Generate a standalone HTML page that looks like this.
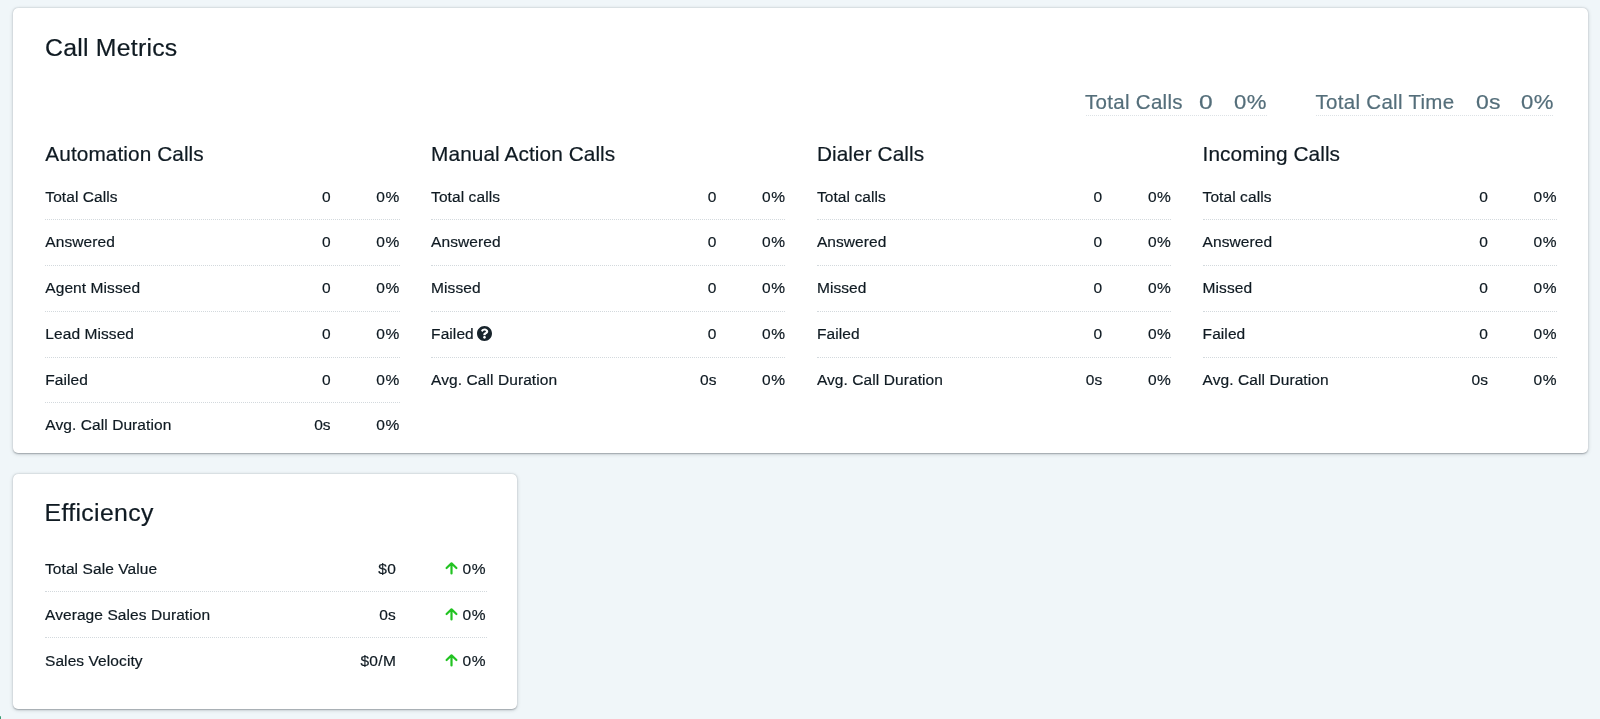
<!DOCTYPE html>
<html><head><meta charset="utf-8"><style>
html,body{margin:0;padding:0}
.layer{position:absolute;left:0;top:0;width:1600px;height:719px;will-change:transform;-webkit-text-stroke:.2px currentColor}
body{width:1600px;height:719px;background:#f0f6f9;position:relative;overflow:hidden;font-family:"Liberation Sans",sans-serif;color:#0f1a22}
.card{position:absolute;background:#fff;border-radius:5px;box-shadow:0 .5px 1.5px rgba(20,30,40,.3),0 1px 4px rgba(20,30,40,.16)}
.t{position:absolute;font-size:24.8px;line-height:24.8px;letter-spacing:.25px;color:#0f1a22;white-space:nowrap}
.st{position:absolute;font-size:20.8px;line-height:21px;letter-spacing:.08px;color:#0f1a22;white-space:nowrap}
.row{position:absolute;height:45.75px;font-size:15.5px;letter-spacing:.08px;line-height:45px;white-space:nowrap}
.row::after{content:"";position:absolute;left:0;right:0;bottom:-1px;border-top:1px dotted #d3d9dd}
.erow{height:46px}
.erow::after{bottom:0}
.erow .v1{letter-spacing:.3px}
.row.last::after{display:none}
.lab{position:absolute;left:0;top:0}
.v1{position:absolute;right:69px;top:0}
.erow .v1{right:90.4px}
.v2{position:absolute;right:0;top:0;letter-spacing:.5px}
.erow .v2{right:0.3px;letter-spacing:.7px}
.q{position:absolute;left:46px;top:15.5px}
.ar{position:absolute;left:399px;top:15.5px}
.sum{position:absolute;top:88.5px;font-size:20.5px;line-height:25px;color:#546e7a;white-space:nowrap;letter-spacing:.3px}
.ul{position:absolute;top:114.5px;height:1px;border-top:1px dotted #dde2e6}
.dg{transform:scaleX(1.12);transform-origin:0 0}
.green{position:absolute;left:0;top:716px;width:1.2px;height:3px;background:#3a9a72;border-top-right-radius:1px}
</style></head><body>
<div class="card" style="left:13px;top:8px;width:1575px;height:445px"></div>
<div class="card" style="left:13px;top:474px;width:504px;height:235px"></div>
<div class="layer">
<div class="t" style="left:45px;top:35.5px">Call Metrics</div>
<div class="sum" style="left:1085px">Total Calls</div>
<div class="sum dg" style="left:1199px;transform:scaleX(1.2)">0</div>
<div class="sum dg" style="left:1234px;transform:scaleX(1.08)">0%</div>
<div class="ul" style="left:1085.5px;width:181.5px"></div>
<div class="sum" style="left:1315.5px">Total Call Time</div>
<div class="sum dg" style="left:1475.5px;transform:scaleX(1.12)">0s</div>
<div class="sum dg" style="left:1521px;transform:scaleX(1.08)">0%</div>
<div class="ul" style="left:1315.5px;width:237.5px"></div>
<div class="st" style="left:45.3px;top:142.75px">Automation Calls</div>
<div class="row" style="left:45.3px;top:173.5px;width:354.4px"><span class="lab">Total Calls</span><span class="v1">0</span><span class="v2">0%</span></div>
<div class="row" style="left:45.3px;top:219.25px;width:354.4px"><span class="lab">Answered</span><span class="v1">0</span><span class="v2">0%</span></div>
<div class="row" style="left:45.3px;top:265.0px;width:354.4px"><span class="lab">Agent Missed</span><span class="v1">0</span><span class="v2">0%</span></div>
<div class="row" style="left:45.3px;top:310.75px;width:354.4px"><span class="lab">Lead Missed</span><span class="v1">0</span><span class="v2">0%</span></div>
<div class="row" style="left:45.3px;top:356.5px;width:354.4px"><span class="lab">Failed</span><span class="v1">0</span><span class="v2">0%</span></div>
<div class="row last" style="left:45.3px;top:402.25px;width:354.4px"><span class="lab">Avg. Call Duration</span><span class="v1">0s</span><span class="v2">0%</span></div>
<div class="st" style="left:431.1px;top:142.75px">Manual Action Calls</div>
<div class="row" style="left:431.1px;top:173.5px;width:354.4px"><span class="lab">Total calls</span><span class="v1">0</span><span class="v2">0%</span></div>
<div class="row" style="left:431.1px;top:219.25px;width:354.4px"><span class="lab">Answered</span><span class="v1">0</span><span class="v2">0%</span></div>
<div class="row" style="left:431.1px;top:265.0px;width:354.4px"><span class="lab">Missed</span><span class="v1">0</span><span class="v2">0%</span></div>
<div class="row" style="left:431.1px;top:310.75px;width:354.4px"><span class="lab">Failed<svg class="q" width="15" height="15" viewBox="8 8 496 496"><path fill="#18242c" d="M504 256c0 136.997-111.043 248-248 248S8 392.997 8 256C8 119.083 119.043 8 256 8s248 111.083 248 248zM262.655 90c-54.497 0-89.255 22.957-116.549 63.758-3.536 5.286-2.353 12.415 2.715 16.258l34.699 26.31c5.205 3.947 12.621 3.008 16.665-2.122 17.864-22.658 30.113-35.797 57.303-35.797 20.429 0 45.698 13.148 45.698 32.958 0 14.976-12.363 22.667-32.534 33.976C247.128 238.528 216 254.941 216 296v4c0 6.627 5.373 12 12 12h56c6.627 0 12-5.373 12-12v-1.333c0-28.462 83.186-29.647 83.186-106.667 0-58.002-60.165-102-116.531-102zM256 338c-25.365 0-46 20.635-46 46 0 25.364 20.635 46 46 46s46-20.636 46-46c0-25.365-20.635-46-46-46z"/></svg></span><span class="v1">0</span><span class="v2">0%</span></div>
<div class="row last" style="left:431.1px;top:356.5px;width:354.4px"><span class="lab">Avg. Call Duration</span><span class="v1">0s</span><span class="v2">0%</span></div>
<div class="st" style="left:816.9px;top:142.75px">Dialer Calls</div>
<div class="row" style="left:816.9px;top:173.5px;width:354.4px"><span class="lab">Total calls</span><span class="v1">0</span><span class="v2">0%</span></div>
<div class="row" style="left:816.9px;top:219.25px;width:354.4px"><span class="lab">Answered</span><span class="v1">0</span><span class="v2">0%</span></div>
<div class="row" style="left:816.9px;top:265.0px;width:354.4px"><span class="lab">Missed</span><span class="v1">0</span><span class="v2">0%</span></div>
<div class="row" style="left:816.9px;top:310.75px;width:354.4px"><span class="lab">Failed</span><span class="v1">0</span><span class="v2">0%</span></div>
<div class="row last" style="left:816.9px;top:356.5px;width:354.4px"><span class="lab">Avg. Call Duration</span><span class="v1">0s</span><span class="v2">0%</span></div>
<div class="st" style="left:1202.6px;top:142.75px">Incoming Calls</div>
<div class="row" style="left:1202.6px;top:173.5px;width:354.4px"><span class="lab">Total calls</span><span class="v1">0</span><span class="v2">0%</span></div>
<div class="row" style="left:1202.6px;top:219.25px;width:354.4px"><span class="lab">Answered</span><span class="v1">0</span><span class="v2">0%</span></div>
<div class="row" style="left:1202.6px;top:265.0px;width:354.4px"><span class="lab">Missed</span><span class="v1">0</span><span class="v2">0%</span></div>
<div class="row" style="left:1202.6px;top:310.75px;width:354.4px"><span class="lab">Failed</span><span class="v1">0</span><span class="v2">0%</span></div>
<div class="row last" style="left:1202.6px;top:356.5px;width:354.4px"><span class="lab">Avg. Call Duration</span><span class="v1">0s</span><span class="v2">0%</span></div>
<div class="t" style="left:44.5px;top:501px;letter-spacing:.35px">Efficiency</div>
<div class="row erow" style="left:45px;top:545.5px;width:441.5px"><span class="lab">Total Sale Value</span><span class="v1">$0</span><svg class="ar" width="16" height="16" viewBox="0 0 16 16"><path d="M7.5 12.5V2.6M2.6 7L7.5 2.3L12.4 7" stroke="#22c322" stroke-width="2.2" stroke-linecap="round" stroke-linejoin="round" fill="none"/></svg><span class="v2">0%</span></div>
<div class="row erow" style="left:45px;top:591.5px;width:441.5px"><span class="lab">Average Sales Duration</span><span class="v1">0s</span><svg class="ar" width="16" height="16" viewBox="0 0 16 16"><path d="M7.5 12.5V2.6M2.6 7L7.5 2.3L12.4 7" stroke="#22c322" stroke-width="2.2" stroke-linecap="round" stroke-linejoin="round" fill="none"/></svg><span class="v2">0%</span></div>
<div class="row erow last" style="left:45px;top:637.5px;width:441.5px"><span class="lab">Sales Velocity</span><span class="v1">$0/M</span><svg class="ar" width="16" height="16" viewBox="0 0 16 16"><path d="M7.5 12.5V2.6M2.6 7L7.5 2.3L12.4 7" stroke="#22c322" stroke-width="2.2" stroke-linecap="round" stroke-linejoin="round" fill="none"/></svg><span class="v2">0%</span></div>
</div>
<div class="green"></div>
</body></html>
